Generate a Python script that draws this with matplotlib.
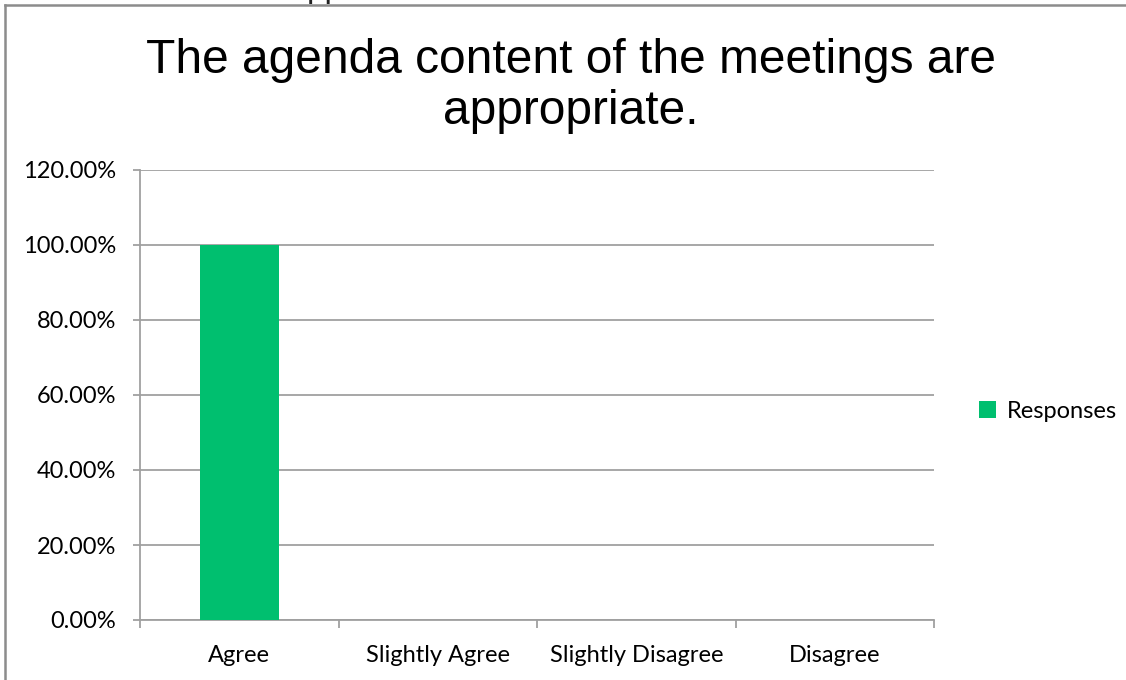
import matplotlib
matplotlib.use("Agg")
import matplotlib.pyplot as plt
from matplotlib.lines import Line2D
from matplotlib.patches import Patch
from matplotlib.ticker import FuncFormatter, MultipleLocator

categories = ["Agree", "Slightly Agree", "Slightly Disagree", "Disagree"]
responses = [1.00, 0.0, 0.0, 0.0]
title = "The agenda content of the meetings are\nappropriate."
series_name = "Responses"

W, H, DPI = 1126, 680, 100
fig = plt.figure(figsize=(W / DPI, H / DPI), dpi=DPI)
fig.patch.set_facecolor("white")

def px(x0, y0, x1, y1):
    return [x0 / W, 1 - y1 / H, (x1 - x0) / W, (y1 - y0) / H]

ax = fig.add_axes(px(140, 170, 934, 620))

bar_color = "#00BF6F"
grid_color = "#A0A0A0"
label_font = ["Lato", "DejaVu Sans"]
label_size = 17

xs = range(len(categories))
ax.bar(xs, responses, width=0.40, color=bar_color, zorder=3)

ax.set_xlim(-0.5, len(categories) - 0.5)
ax.set_ylim(0, 1.2)
ax.yaxis.set_major_locator(MultipleLocator(0.2))
ax.yaxis.set_major_formatter(FuncFormatter(lambda v, p: f"{v * 100:.2f}%"))
ax.grid(axis="y", color=grid_color, linewidth=1.3, zorder=0)

ax.set_xticks([i - 0.5 for i in range(len(categories) + 1)], minor=False)
ax.set_xticklabels([])
ax.set_xticks(list(xs), minor=True)
ax.set_xticklabels(categories, minor=True, fontsize=label_size, family=label_font)
ax.tick_params(axis="x", which="major", length=6, width=1.3, color=grid_color, direction="out")
ax.tick_params(axis="x", which="minor", length=0, pad=18)
ax.tick_params(axis="y", length=5, width=1.3, color=grid_color, direction="out", pad=12,
               labelsize=label_size)
for lab in ax.get_yticklabels():
    lab.set_family(label_font)

for side in ("top", "right"):
    ax.spines[side].set_visible(False)
ax.spines["left"].set_color(grid_color)
ax.spines["bottom"].set_color(grid_color)
ax.spines["left"].set_linewidth(1.3)
ax.spines["bottom"].set_linewidth(1.3)

fig.text(571 / W, 1 - 86 / H, title, ha="center", va="center", fontsize=34.5,
         family=["Liberation Sans", "DejaVu Sans"], linespacing=1.15, color="black")

handle = Patch(facecolor=bar_color, edgecolor="none")
fig.legend([handle], [series_name], loc="center left", bbox_to_anchor=(958 / W, 1 - 411 / H),
           frameon=False, prop={"family": label_font, "size": label_size},
           handlelength=0.7, handleheight=0.7, handletextpad=0.45)

# outer frame of the chart area
frame_kw = dict(color="#8C8C8C", linewidth=1.8, transform=fig.transFigure)
fig.add_artist(Line2D([5 / W, 1], [1 - 5 / H, 1 - 5 / H], **frame_kw))
fig.add_artist(Line2D([5 / W, 5 / W], [0, 1 - 5 / H], **frame_kw))

# descenders of the heading sitting above the frame
fig.text(307 / W, 1 + 3 / H, "pp", ha="left", va="baseline", fontsize=24,
         family=["Liberation Sans", "DejaVu Sans"], color="#222222")

fig.savefig("out.png", dpi=DPI, facecolor="white")
